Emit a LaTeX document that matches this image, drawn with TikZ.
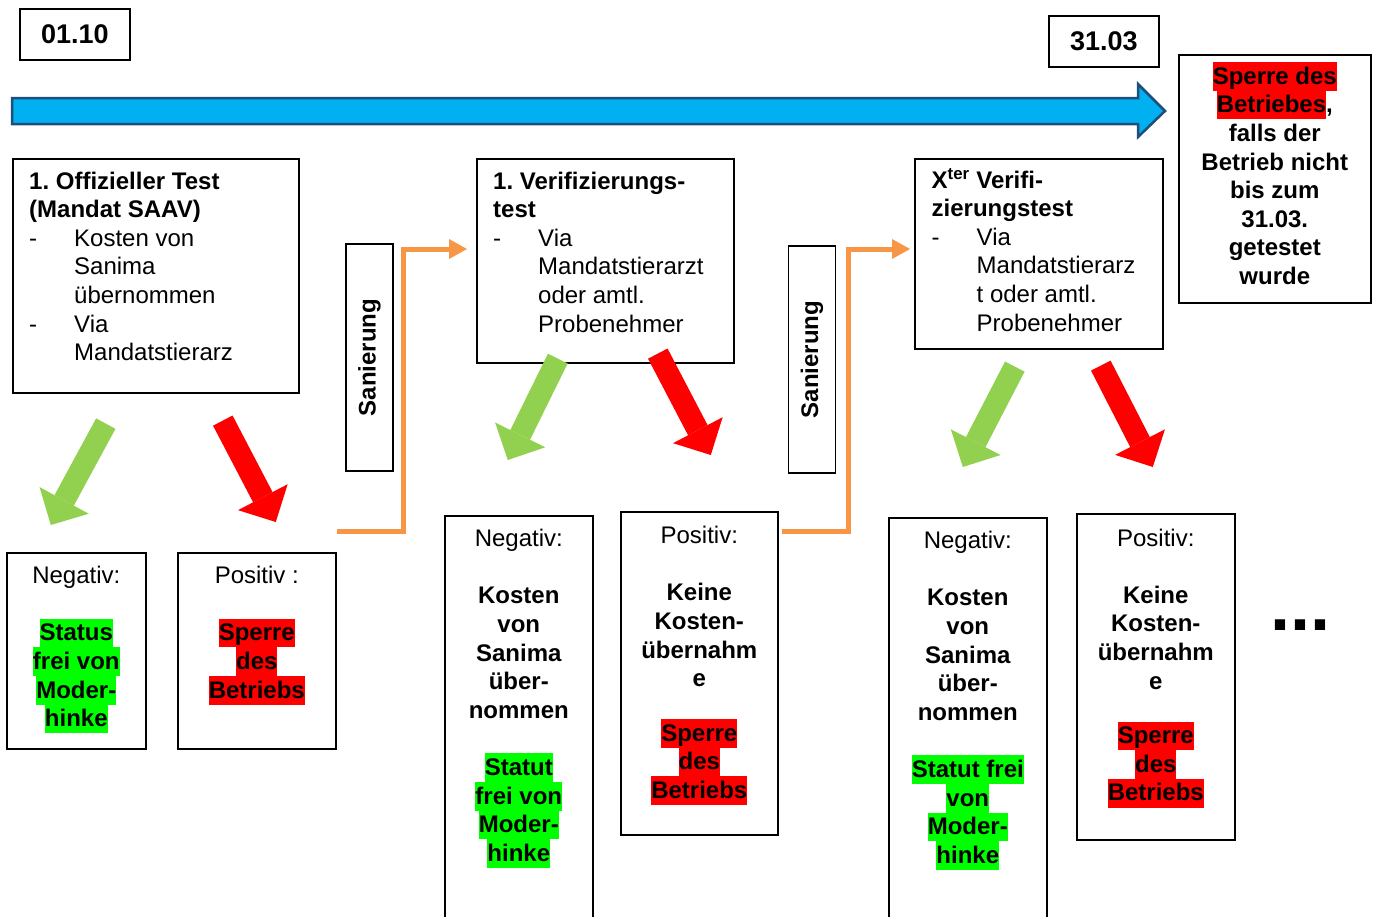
\documentclass[tikz,border=0pt]{standalone}
\usepackage{fontspec}
\setmainfont{Liberation Sans}
\usepackage{xcolor}
\usetikzlibrary{arrows.meta,positioning,calc}
\frenchspacing

\definecolor{tlblue}{HTML}{00B0F0}
\definecolor{tlborder}{HTML}{1F4E79}
\definecolor{sanorange}{HTML}{F79646}
\definecolor{okgreen}{HTML}{92D050}
\definecolor{failred}{HTML}{FF0000}
\definecolor{hlgreen}{HTML}{00FF00}
\definecolor{hlred}{HTML}{FF0000}

\newcommand{\hlstrut}{\rule[-6.6pt]{0pt}{28.6pt}}
\newcommand{\hlg}[1]{{\setlength{\fboxsep}{0pt}\colorbox{hlgreen}{\hlstrut#1}}}
\newcommand{\hlr}[1]{{\setlength{\fboxsep}{0pt}\colorbox{hlred}{\hlstrut#1}}}
\newcommand{\dashitem}{\makebox[45pt][l]{-}}
\newcommand{\indnt}{\hspace*{45pt}}

\begin{document}
\begin{tikzpicture}[x=1pt,y=-1pt,
    frame/.style={draw,line width=1.6pt,anchor=north west,inner sep=0pt},
    datebox/.style={frame,font=\bfseries\fontsize{27}{30}\selectfont},
    boxtext/.style={anchor=north west,inner sep=0pt,align=left,font=\fontsize{24}{28.6}\selectfont},
    restext/.style={anchor=north,inner sep=0pt,align=center,font=\bfseries\fontsize{24}{28.6}\selectfont},
    sanbox/.style={draw,line width=1.6pt,rotate=90,minimum width=227pt,minimum height=47pt,inner sep=0pt,font=\bfseries\fontsize{24}{28.6}\selectfont},
    timeline/.style={fill=tlblue,draw=tlborder,line width=2.5pt,line join=miter},
    sanarrow/.style={draw=sanorange,line width=5pt,-{Triangle[length=18pt,width=20pt,line width=0pt]}},
    okarrow/.style={draw=okgreen,line width=22pt,-{Triangle[length=28pt,width=56pt,line width=0pt]}},
    failarrow/.style={draw=failred,line width=22pt,-{Triangle[length=28pt,width=56pt,line width=0pt]}}
  ]
    \useasboundingbox (0,0) rectangle (1376,916);
    \clip (0,0) rectangle (1376,916);

    \node[datebox,minimum width=110pt,minimum height=51pt] (start) at (19,8) {01.10};
    \node[datebox,minimum width=110pt,minimum height=51pt] (deadline) at (1048,15) {31.03};
    \draw[timeline] (12,98) -- (1138,98) -- (1138,84) -- (1165,111) -- (1138,137) -- (1138,124) -- (12,124) -- cycle;

    \node[frame,minimum width=192pt,minimum height=248pt] (lock) at (1178,54) {};
    \node[restext] (locktxt) at ([shift={(0,8)}]lock.north) {\hlr{Sperre des}\\ \hlr{Betriebes},\\ falls der\\ Betrieb nicht\\ bis zum\\ 31.03.\\ getestet\\ wurde};

    \node[frame,minimum width=286pt,minimum height=234pt] (off1) at (12,158) {};
    \node[boxtext] (off1txt) at ([shift={(17,13.5)}]off1.north west) {\textbf{1. Offizieller Test}\\ \textbf{(Mandat SAAV)}\\ \dashitem Kosten von\\ \indnt Sanima\\ \indnt übernommen\\ \dashitem Via\\ \indnt Mandatstierarz};
    \node[frame,minimum width=257pt,minimum height=204pt] (ver1) at (476,158) {};
    \node[boxtext] (ver1txt) at ([shift={(17,13.5)}]ver1.north west) {\textbf{1. Verifizierungs-}\\ \textbf{test}\\ \dashitem Via\\ \indnt Mandatstierarzt\\ \indnt oder amtl.\\ \indnt Probenehmer};
    \node[frame,minimum width=248pt,minimum height=190pt] (verx) at (914,158) {};
    \node[boxtext] (verxtxt) at ([shift={(17.5,10)}]verx.north west) {\textbf{X\textsuperscript{ter} Verifi-}\\ \textbf{zierungstest}\\ \dashitem Via\\ \indnt Mandatstierarz\\ \indnt t oder amtl.\\ \indnt Probenehmer};

    \node[sanbox] (san1) at (369.5,357.5) {Sanierung};
    \node[sanbox] (san2) at (812,359.5) {Sanierung};

    \node[frame,minimum width=139pt,minimum height=196pt] (neg1) at (6,552) {};
    \node[restext] (neg1txt) at ([shift={(0,14)}]neg1.north) {\textmd{Negativ:}\\[28.6pt] \hlg{Status}\\ \hlg{frei von}\\ \hlg{Moder-}\\ \hlg{hinke}};
    \node[frame,minimum width=158pt,minimum height=196pt] (pos1) at (177,552) {};
    \node[restext] (pos1txt) at ([shift={(0,14)}]pos1.north) {\textmd{Positiv :}\\[28.6pt] \hlr{Sperre}\\ \hlr{des}\\ \hlr{Betriebs}};
    \node[frame,minimum width=148pt,minimum height=420pt] (neg2) at (444,515) {};
    \node[restext] (neg2txt) at ([shift={(0,14)}]neg2.north) {\textmd{Negativ:}\\[28.6pt] Kosten\\ von\\ Sanima\\ über-\\ nommen\\[28.6pt] \hlg{Statut}\\ \hlg{frei von}\\ \hlg{Moder-}\\ \hlg{hinke}};
    \node[frame,minimum width=157pt,minimum height=323pt] (pos2) at (620,511) {};
    \node[restext] (pos2txt) at ([shift={(0,15)}]pos2.north) {\textmd{Positiv:}\\[28.6pt] Keine\\ Kosten-\\ übernahm\\ e\\[26pt] \hlr{Sperre}\\ \hlr{des}\\ \hlr{Betriebs}};
    \node[frame,minimum width=158pt,minimum height=420pt] (neg3) at (888,517) {};
    \node[restext] (neg3txt) at ([shift={(0,14)}]neg3.north) {\textmd{Negativ:}\\[28.6pt] Kosten\\ von\\ Sanima\\ über-\\ nommen\\[28.6pt] \hlg{Statut frei}\\ \hlg{von}\\ \hlg{Moder-}\\ \hlg{hinke}};
    \node[frame,minimum width=158pt,minimum height=326pt] (pos3) at (1076,513) {};
    \node[restext] (pos3txt) at ([shift={(0,15.5)}]pos3.north) {\textmd{Positiv:}\\[28.6pt] Keine\\ Kosten-\\ übernahm\\ e\\[26pt] \hlr{Sperre}\\ \hlr{des}\\ \hlr{Betriebs}};

    \node[inner sep=0pt,font=\bfseries\fontsize{72}{72}\selectfont] (more) at (1300,625) {...};

    \coordinate (o1) at (337,531);
    \coordinate (o1up) at (403,249);
    \coordinate (o2) at (782,531);
    \coordinate (o2up) at (848,249);
    \draw[sanarrow] (o1) -| (o1up) -- ([xshift=-9pt]ver1.west |- o1up);
    \draw[sanarrow] (o2) -| (o2up) -- ([xshift=-4pt]verx.west |- o2up);

    \draw[okarrow] ($(off1.south)+(-50,30)$) -- ($(neg1.north)+(-25.5,-27)$);
    \draw[failarrow] ($(off1.south)+(67,27)$) -- ($(pos1.north)+(19,-30)$);
    \draw[okarrow] ($(ver1.south)+(-47.5,-5)$) -- ($(neg2.north)+(-11,-55)$);
    \draw[failarrow] ($(ver1.south)+(52.5,-10)$) -- ($(pos2.north)+(11.5,-56)$);
    \draw[okarrow] ($(verx.south)+(-24,17)$) -- ($(neg3.north)+(-5,-50)$);
    \draw[failarrow] ($(verx.south)+(62,16)$) -- ($(pos3.north)+(-3,-46)$);
  \end{tikzpicture}
\end{document}
